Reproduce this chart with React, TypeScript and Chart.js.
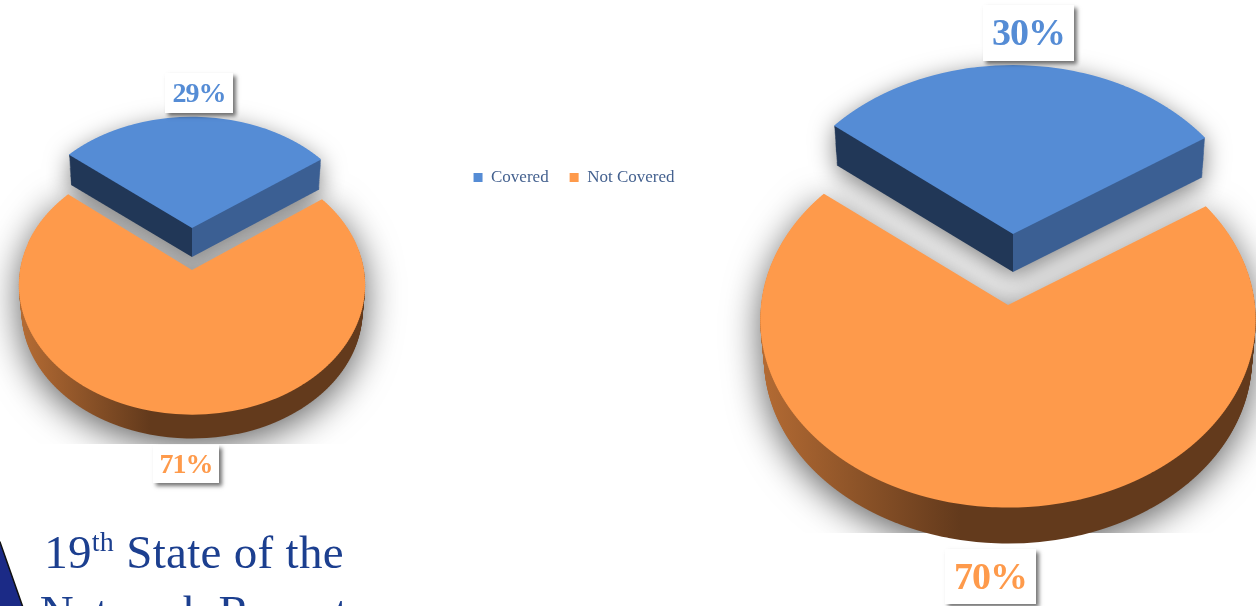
import React, { useEffect, useRef } from "react";
import { Chart, registerables } from "chart.js";

Chart.register(...registerables);

const categories = ["Covered", "Not Covered"];
const leftValues = [29, 71];
const rightValues = [30, 70];
const topColors = ["#558cd5", "#fe9a4b"];

const W = 1256;
const H = 606;
const serif = "'Liberation Serif', 'DejaVu Serif', serif";

type Geo = { cx: number; cy: number; rx: number; ry: number; k: number; depth: number };
type PieLook = {
  geo: Geo[];
  shadowClipY: number;
  fontSize: number;
  boxes: { x: number; y: number; w: number; h: number }[];
  orangeGradient: [number, number];
};

const leftLook: PieLook = {
  geo: [
    { cx: 192, cy: 228, rx: 171, ry: 124, k: 0.115, depth: 29 },
    { cx: 192, cy: 270, rx: 172, ry: 128, k: 0.115, depth: 26 },
  ],
  shadowClipY: 444,
  fontSize: 28,
  boxes: [
    { x: 165, y: 73, w: 68, h: 40 },
    { x: 153, y: 445, w: 66, h: 38 },
  ],
  orangeGradient: [25, 150],
};

const rightLook: PieLook = {
  geo: [
    { cx: 1013, cy: 234, rx: 240, ry: 182, k: 0.077, depth: 38 },
    { cx: 1008, cy: 305, rx: 247, ry: 187, k: 0.077, depth: 39 },
  ],
  shadowClipY: 533,
  fontSize: 38,
  boxes: [
    { x: 983, y: 5, w: 91, h: 56 },
    { x: 945, y: 549, w: 91, h: 55 },
  ],
  orangeGradient: [765, 960],
};

const STRIP = 2;

// Draws the library's arc element in perspective, one thin screen row at a time.
function paintArc(
  ctx: CanvasRenderingContext2D,
  arc: any,
  g: Geo,
  index: number,
  dy: number,
  fill: (toLocal: (x: number) => number) => any,
) {
  const R = arc.outerRadius;
  const shrink = 1 - (0.015 * dy) / Math.max(g.depth, 1);
  const ry = g.ry * shrink;
  const rx = g.rx * shrink;
  const yApex = g.cy + dy;
  const first = Math.floor(yApex - ry / (1 + g.k) - STRIP);
  const last = Math.ceil(yApex + (index === 0 ? 2 : ry / (1 - g.k) + STRIP));
  const ghost = Object.create(arc);
  for (let y = first; y < last; y += STRIP) {
    const yc = y + STRIP / 2 - yApex;
    const v = yc / (ry + g.k * yc);
    const w = 1 / (1 - g.k * v);
    const s = rx * w;
    const dydv = ry * w * w;
    ghost.options = {
      backgroundColor: fill((sx: number) => arc.x + ((sx - g.cx) * R) / s),
      borderColor: "transparent",
      borderWidth: 0,
      borderAlign: "center",
      borderRadius: 0,
      borderJoinStyle: "round",
      offset: 0,
      spacing: 0,
      circular: true,
    };
    ctx.save();
    ctx.beginPath();
    ctx.rect(0, y, W, STRIP);
    ctx.clip();
    ctx.translate(g.cx, y + STRIP / 2);
    ctx.scale(s / R, dydv / R);
    ctx.translate(-arc.x, -arc.y - v * R);
    ghost.draw(ctx);
    ctx.restore();
  }
}

function paintSides(ctx: CanvasRenderingContext2D, arc: any, g: Geo, index: number, look: PieLook) {
  const fill = (k: (x: number) => number) => {
    if (index === 0) {
      const lg = ctx.createLinearGradient(k(g.cx - 400), 0, k(g.cx + 400), 0);
      lg.addColorStop(0, "#213757");
      lg.addColorStop(0.5, "#213757");
      lg.addColorStop(0.5, "#3b5f93");
      lg.addColorStop(1, "#3b5f93");
      return lg;
    }
    const lg = ctx.createLinearGradient(k(look.orangeGradient[0]), 0, k(look.orangeGradient[1]), 0);
    lg.addColorStop(0, "#b26a33");
    lg.addColorStop(1, "#633a1c");
    return lg;
  };
  for (let d = g.depth; d >= 1; d--) paintArc(ctx, arc, g, index, d, fill);
}

function paintShadow(
  ctx: CanvasRenderingContext2D,
  arc: any,
  g: Geo,
  index: number,
  clipY: number,
  blur: number,
  offY: number,
  alpha: number,
) {
  const off = document.createElement("canvas");
  off.width = W;
  off.height = H;
  const oc = off.getContext("2d") as CanvasRenderingContext2D;
  for (let d = g.depth; d >= 0; d -= 2) paintArc(oc, arc, g, index, d, () => "#000");
  ctx.save();
  ctx.beginPath();
  ctx.rect(0, 0, W, clipY);
  ctx.clip();
  ctx.shadowColor = `rgba(0,0,0,${alpha})`;
  ctx.shadowBlur = blur;
  ctx.shadowOffsetX = 3000;
  ctx.shadowOffsetY = offY;
  ctx.drawImage(off, -3000, 0);
  ctx.restore();
}

const pie3d = {
  id: "pie3d",
  beforeDatasetDraw(chart: any, _args: any, opts: any) {
    const look: PieLook = opts.look;
    const ctx: CanvasRenderingContext2D = chart.ctx;
    const arcs = chart.getDatasetMeta(0).data;

    paintShadow(ctx, arcs[0], look.geo[0], 0, H, 24, 6, 0.5);
    paintShadow(ctx, arcs[1], look.geo[1], 1, look.shadowClipY, 36, 8, 0.62);
    paintSides(ctx, arcs[1], look.geo[1], 1, look);
    paintArc(ctx, arcs[1], look.geo[1], 1, 0, () => topColors[1]);
    paintSides(ctx, arcs[0], look.geo[0], 0, look);
    paintArc(ctx, arcs[0], look.geo[0], 0, 0, () => topColors[0]);
    return false;
  },
  afterDatasetsDraw(chart: any, _args: any, opts: any) {
    const look: PieLook = opts.look;
    const ctx: CanvasRenderingContext2D = chart.ctx;
    const values: number[] = chart.data.datasets[0].data;
    values.forEach((v, i) => {
      const b = look.boxes[i];
      ctx.save();
      ctx.shadowColor = "rgba(0,0,0,0.55)";
      ctx.shadowBlur = 4;
      ctx.shadowOffsetX = 3;
      ctx.shadowOffsetY = 3;
      ctx.fillStyle = "#ffffff";
      ctx.fillRect(b.x, b.y, b.w, b.h);
      ctx.restore();
      ctx.save();
      ctx.fillStyle = topColors[i];
      ctx.font = `bold ${look.fontSize}px ${serif}`;
      (ctx as any).letterSpacing = "-1px";
      ctx.textAlign = "center";
      ctx.textBaseline = "middle";
      ctx.fillText(`${v}%`, b.x + b.w / 2, b.y + b.h / 2 + look.fontSize * 0.07);
      ctx.restore();
    });
  },
};

function makeChart(canvas: HTMLCanvasElement, values: number[], rotation: number, look: PieLook, withLegend: boolean) {
  return new Chart(canvas, {
    type: "pie",
    data: {
      labels: categories,
      datasets: [{ data: values, backgroundColor: topColors, borderWidth: 0 }],
    },
    options: {
      responsive: false,
      animation: false,
      rotation,
      layout: { padding: withLegend ? { top: 148 } : 0 },
      plugins: {
        tooltip: { enabled: false },
        legend: {
          display: withLegend,
          position: "top",
          labels: {
            boxWidth: 9,
            boxHeight: 9,
            padding: 21,
            color: "#44618f",
            font: { family: serif, size: 17 },
          },
        },
        pie3d: { look },
      } as any,
    },
    plugins: [pie3d as any],
  });
}

export default function App() {
  const leftRef = useRef<HTMLCanvasElement>(null);
  const rightRef = useRef<HTMLCanvasElement>(null);

  useEffect(() => {
    const a = makeChart(leftRef.current!, leftValues, -50.6, leftLook, true);
    const b = makeChart(rightRef.current!, rightValues, -51.4, rightLook, false);
    return () => {
      a.destroy();
      b.destroy();
    };
  }, []);

  return (
    <div style={{ position: "fixed", left: 0, top: 0, width: W, height: H, overflow: "hidden", background: "#fff" }}>
      <canvas ref={leftRef} width={1148} height={H} style={{ position: "absolute", left: 0, top: 0, display: "block" }} />
      <canvas ref={rightRef} width={W} height={H} style={{ position: "absolute", left: 0, top: 0, display: "block" }} />
      <svg width={40} height={90} style={{ position: "absolute", left: 0, top: 530 }}>
        <polygon points="-5,10 0,12 26,86 -5,86" fill="#1b2a86" stroke="#111" strokeWidth={1.5} />
      </svg>
      <div
        style={{
          position: "absolute",
          left: 24,
          top: 522,
          width: 340,
          textAlign: "center",
          fontFamily: serif,
          fontSize: 47,
          lineHeight: "60px",
          letterSpacing: 0.3,
          color: "#1c3f8f",
          whiteSpace: "nowrap",
        }}
      >
        19<sup style={{ fontSize: 28, lineHeight: 0 }}>th</sup> State of the
        <br />
        Network Report
      </div>
    </div>
  );
}
